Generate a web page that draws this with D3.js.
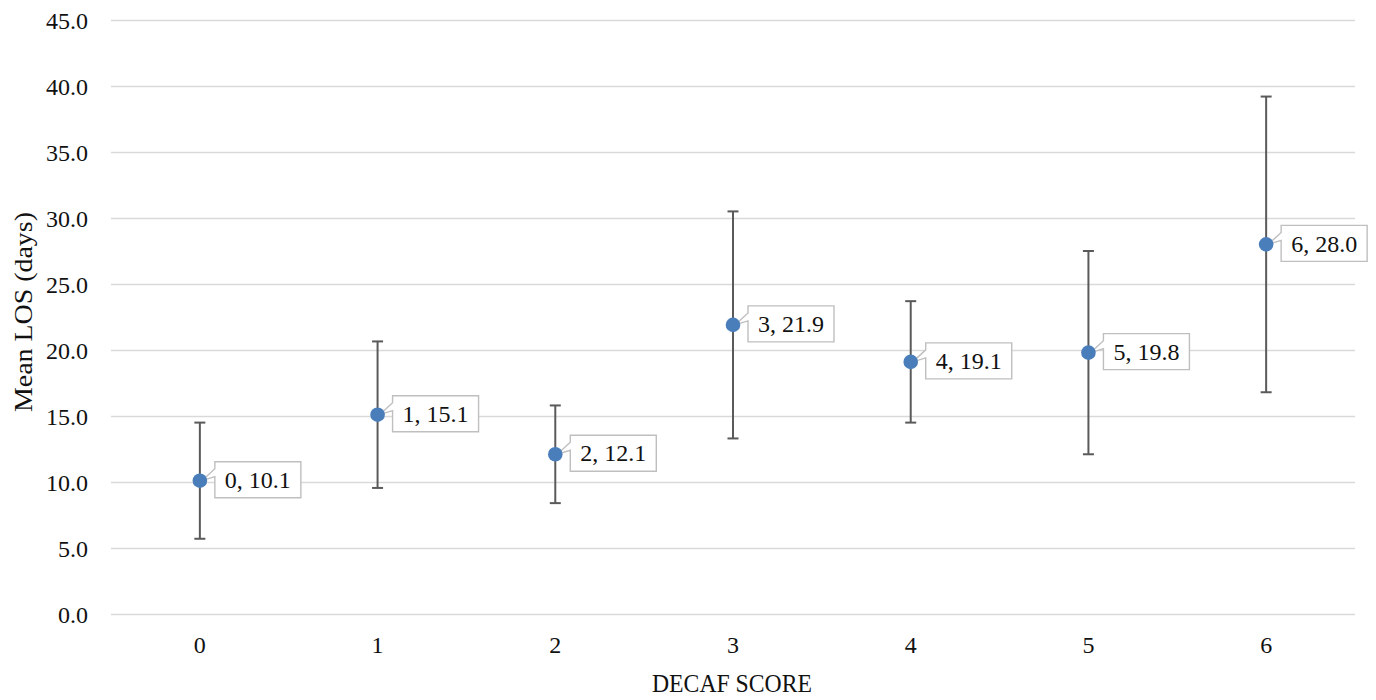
<!DOCTYPE html>
<html>
<head>
<meta charset="utf-8">
<script src="https://cdn.jsdelivr.net/npm/d3@7"></script>
<style>
  html, body { margin: 0; padding: 0; background: #fff; }
  svg { display: block; }
  text { font-family: "Liberation Serif", "Times New Roman", serif; fill: #111; }
</style>
</head>
<body>
<svg id="chart" width="1376" height="700"></svg>
<script>
// DECAF score vs mean length of stay, with error bars
const scores = ["0", "1", "2", "3", "4", "5", "6"];
const meanLOS = [10.1, 15.1, 12.1, 21.9, 19.1, 19.8, 28.0];
const errLOS = [4.4, 5.55, 3.7, 8.6, 4.6, 7.7, 11.2];
const yTicks = [0, 5, 10, 15, 20, 25, 30, 35, 40, 45];

const svg = d3.select("#chart");
const plot = { left: 111, right: 1355, top: 20, bottom: 614 };

const x = d3.scaleBand().domain(scores).range([plot.left, plot.right]).padding(0);
const y = d3.scaleLinear().domain([0, 45]).range([plot.bottom, plot.top]);
const cx = d => x(d) + x.bandwidth() / 2;

// horizontal gridlines and y tick labels
const yAxis = d3.axisLeft(y)
  .tickValues(yTicks)
  .tickFormat(d3.format(".1f"))
  .tickSize(-(plot.right - plot.left))
  .tickPadding(23);
const gy = svg.append("g").attr("transform", `translate(${plot.left},0)`).call(yAxis);
gy.select(".domain").remove();
gy.selectAll(".tick line").attr("stroke", "#d9d9d9").attr("stroke-width", 1.4);
gy.selectAll(".tick text")
  .attr("font-size", 24)
  .attr("font-family", "Liberation Serif")
  .attr("fill", "#111")
  .attr("dy", "0.34em");

// x tick labels
const xAxis = d3.axisBottom(x).tickSize(0).tickPadding(0);
const gx = svg.append("g").attr("transform", `translate(0,${plot.bottom})`).call(xAxis);
gx.select(".domain").remove();
gx.selectAll(".tick text")
  .attr("font-size", 24)
  .attr("font-family", "Liberation Serif")
  .attr("fill", "#111")
  .attr("y", 39)
  .attr("dy", 0);

// axis titles
svg.append("text")
  .attr("x", (plot.left + plot.right) / 2 - 1)
  .attr("y", 692)
  .attr("text-anchor", "middle")
  .attr("font-size", 25)
  .attr("textLength", 160)
  .attr("lengthAdjust", "spacingAndGlyphs")
  .text("DECAF SCORE");

svg.append("text")
  .attr("transform", `translate(32,312) rotate(-90)`)
  .attr("text-anchor", "middle")
  .attr("font-size", 25)
  .attr("textLength", 200)
  .attr("lengthAdjust", "spacingAndGlyphs")
  .text("Mean LOS (days)");

const pts = scores.map((s, i) => ({ s, v: meanLOS[i], e: errLOS[i] }));

// error bars
const eb = svg.append("g").attr("stroke", "#5a5a5a").attr("stroke-width", 2).attr("fill", "none");
const capW = 5.5;
pts.forEach(p => {
  const px = cx(p.s);
  const lo = y(p.v - p.e), hi = y(p.v + p.e);
  eb.append("line").attr("x1", px).attr("x2", px).attr("y1", lo).attr("y2", hi);
  eb.append("line").attr("x1", px - capW).attr("x2", px + capW).attr("y1", lo).attr("y2", lo);
  eb.append("line").attr("x1", px - capW).attr("x2", px + capW).attr("y1", hi).attr("y2", hi);
});

// callout labels
const fmt = d3.format(".1f");
const lab = svg.append("g");
pts.forEach(p => {
  const px = cx(p.s), py = y(p.v);
  const bx = px + 15, by = py - 19, bw = 86, bh = 36;
  const path = d3.path();
  path.moveTo(bx, by);
  path.lineTo(bx + bw, by);
  path.lineTo(bx + bw, by + bh);
  path.lineTo(bx, by + bh);
  path.lineTo(bx, py - 4);
  path.lineTo(px + 2, py);
  path.lineTo(bx, py - 12);
  path.closePath();
  lab.append("path")
    .attr("d", path.toString())
    .attr("fill", "#fff")
    .attr("stroke", "#bfbfbf")
    .attr("stroke-width", 1.4);
  lab.append("text")
    .attr("x", bx + bw / 2)
    .attr("y", by + bh / 2)
    .attr("dy", "0.34em")
    .attr("text-anchor", "middle")
    .attr("font-size", 24)
    .text(`${p.s}, ${fmt(p.v)}`);
});

// markers
svg.append("g").selectAll("circle").data(pts).join("circle")
  .attr("cx", d => cx(d.s))
  .attr("cy", d => y(d.v))
  .attr("r", 7.3)
  .attr("fill", "#4a7ebb");
</script>
</body>
</html>
